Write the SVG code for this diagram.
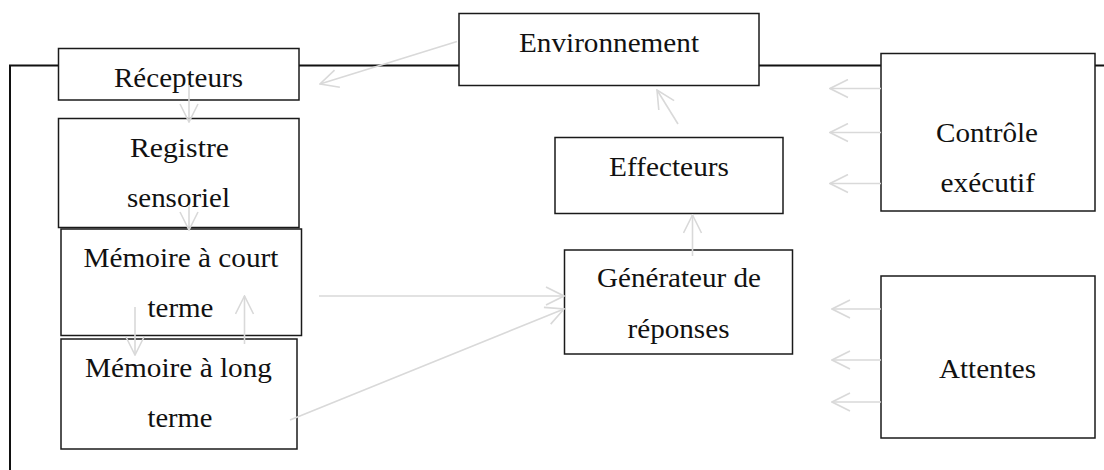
<svg xmlns="http://www.w3.org/2000/svg" width="1104" height="470" viewBox="0 0 1104 470">
  <style>
    .box { fill: #ffffff; stroke: #1a1a1a; stroke-width: 1.5; }
    .frame { fill: none; stroke: #111111; stroke-width: 2; }
    .link { fill: none; stroke: #d9d9d9; stroke-width: 1.6; marker-end: url(#open-arrow); }
    .label { font-family: "Liberation Serif", "Times New Roman", serif; font-size: 27.5px; fill: #111111; }
  </style>
  <defs>
    <marker id="open-arrow" viewBox="0 0 20 20" refX="19" refY="10" markerWidth="20" markerHeight="20" markerUnits="userSpaceOnUse" orient="auto">
      <path d="M1,1 L19,10 L1,19" fill="none" stroke="#d9d9d9" stroke-width="1.6"/>
    </marker>
  </defs>
  <rect width="1104" height="470" fill="#ffffff"/>

  <!-- outer loop line -->
  <g id="frame">
    <path class="frame" d="M10,470 V65.5 H58 M299,65.5 H459 M759,65.5 H881 M1095,65.5 H1104"/>
  </g>

  <g id="environnement">
    <rect class="box" x="459" y="13.5" width="300" height="72"/>
    <text class="label" x="519" y="52" textLength="180" lengthAdjust="spacingAndGlyphs">Environnement</text>
  </g>

  <g id="recepteurs">
    <rect class="box" x="58.5" y="48.5" width="240.5" height="51.5"/>
    <text class="label" x="114" y="87" textLength="129" lengthAdjust="spacingAndGlyphs">Récepteurs</text>
  </g>

  <g id="registre-sensoriel">
    <rect class="box" x="58.5" y="118.5" width="240.5" height="109"/>
    <text class="label" x="130" y="157" textLength="99" lengthAdjust="spacingAndGlyphs">Registre</text>
    <text class="label" x="127" y="207" textLength="103" lengthAdjust="spacingAndGlyphs">sensoriel</text>
  </g>

  <g id="memoire-court-terme">
    <rect class="box" x="61" y="229" width="240.5" height="106.5"/>
    <text class="label" x="83.5" y="267" textLength="195" lengthAdjust="spacingAndGlyphs">Mémoire à court</text>
    <text class="label" x="147.5" y="317" textLength="66" lengthAdjust="spacingAndGlyphs">terme</text>
  </g>

  <g id="memoire-long-terme">
    <rect class="box" x="61" y="339" width="236" height="110"/>
    <text class="label" x="85" y="377" textLength="187" lengthAdjust="spacingAndGlyphs">Mémoire à long</text>
    <text class="label" x="147.5" y="427" textLength="65" lengthAdjust="spacingAndGlyphs">terme</text>
  </g>

  <g id="effecteurs">
    <rect class="box" x="555" y="137.5" width="228" height="76"/>
    <text class="label" x="609" y="176" textLength="120" lengthAdjust="spacingAndGlyphs">Effecteurs</text>
  </g>

  <g id="generateur-reponses">
    <rect class="box" x="564.5" y="250" width="228" height="104"/>
    <text class="label" x="597" y="287" textLength="164" lengthAdjust="spacingAndGlyphs">Générateur de</text>
    <text class="label" x="627.5" y="337.5" textLength="102" lengthAdjust="spacingAndGlyphs">réponses</text>
  </g>

  <g id="controle-executif">
    <rect class="box" x="881" y="53.5" width="214" height="157.5"/>
    <text class="label" x="936" y="141.5" textLength="102" lengthAdjust="spacingAndGlyphs">Contrôle</text>
    <text class="label" x="940.5" y="192" textLength="94.5" lengthAdjust="spacingAndGlyphs">exécutif</text>
  </g>

  <g id="attentes">
    <rect class="box" x="881" y="276" width="214" height="162"/>
    <text class="label" x="939" y="377.5" textLength="97" lengthAdjust="spacingAndGlyphs">Attentes</text>
  </g>

  <!-- connectors, drawn over the boxes -->
  <g id="connectors">
    <line class="link" x1="457" y1="41.5" x2="320" y2="84"/>
    <line class="link" x1="189" y1="85" x2="189" y2="122"/>
    <line class="link" x1="189" y1="205" x2="189" y2="230"/>
    <line class="link" x1="135" y1="307" x2="135" y2="355"/>
    <line class="link" x1="244.5" y1="344" x2="244.5" y2="296"/>
    <line class="link" x1="319" y1="296" x2="564" y2="296"/>
    <line class="link" x1="290" y1="420" x2="564" y2="309"/>
    <line class="link" x1="692.5" y1="256" x2="692.5" y2="215"/>
    <line class="link" x1="678" y1="124" x2="657" y2="90"/>
    <line class="link" x1="881" y1="88.5" x2="830" y2="88.5"/>
    <line class="link" x1="881" y1="132.5" x2="830" y2="132.5"/>
    <line class="link" x1="881" y1="183.5" x2="830" y2="183.5"/>
    <line class="link" x1="881" y1="309" x2="832" y2="309"/>
    <line class="link" x1="881" y1="360" x2="832" y2="360"/>
    <line class="link" x1="881" y1="402" x2="832" y2="402"/>
  </g>
</svg>
